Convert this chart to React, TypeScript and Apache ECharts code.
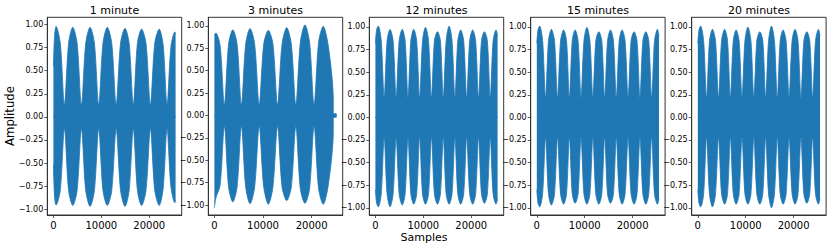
import React, { useEffect, useRef } from "react";
import * as echarts from "echarts";

// ---- data ----
const TITLES = ["1 minute", "3 minutes", "12 minutes", "15 minutes", "20 minutes"];
const Y_TICKS = [-1, -0.75, -0.5, -0.25, 0, 0.25, 0.5, 0.75, 1];
const X_TICKS = [0, 10000, 20000];

// envelope keypoints (sample index, upper / lower envelope)
const P1_X = [0, 250, 560, 1430, 2300, 3170, 4040, 4940, 5845, 6750, 7650, 8550, 9450, 10350, 11250, 12170, 13095, 14020, 14940, 15800, 16670, 17540, 18400, 19320, 20240, 21160, 22080, 22900, 23715, 24530, 25350, 25500];
const P1_TOP = [0.55, 0.88, 0.98, 0.8, 0.13, 0.8, 0.97, 0.8, 0.13, 0.8, 0.97, 0.8, 0.13, 0.8, 0.97, 0.8, 0.13, 0.8, 0.96, 0.8, 0.13, 0.8, 0.95, 0.8, 0.13, 0.8, 0.95, 0.78, 0.13, 0.76, 0.92, 0.9];
const P1_BOT = [-0.52, -0.87, -0.955, -0.8, -0.13, -0.8, -0.96, -0.8, -0.13, -0.8, -0.97, -0.8, -0.13, -0.8, -0.96, -0.8, -0.13, -0.8, -0.97, -0.8, -0.13, -0.8, -0.96, -0.8, -0.13, -0.8, -0.96, -0.78, -0.13, -0.76, -0.93, -0.9];

const P2_X = [0, 300, 1170, 2050, 2920, 3780, 4660, 5550, 6440, 7330, 8270, 9210, 10150, 11090, 12030, 12980, 13920, 14870, 15810, 16745, 17680, 18620, 19560, 20500, 21440, 22380, 23410, 24440, 24470, 25130];
const P2_TOP = [0.9, 0.92, 0.78, 0.12, 0.8, 0.955, 0.8, 0.12, 0.8, 0.97, 0.8, 0.12, 0.8, 0.95, 0.8, 0.12, 0.8, 0.98, 0.8, 0.12, 0.82, 1.01, 0.82, 0.12, 0.82, 0.995, 0.78, 0.22, 0.02, 0.02];
const P2_BOT = [-1.03, -0.92, -0.78, -0.12, -0.8, -0.965, -0.8, -0.12, -0.8, -0.985, -0.8, -0.12, -0.8, -0.99, -0.8, -0.12, -0.8, -0.95, -0.8, -0.12, -0.82, -0.98, -0.82, -0.12, -0.82, -0.99, -0.78, -0.22, -0.02, -0.02];

const P345_X = [0, 250, 600, 1210, 1825, 2440, 3050, 3690, 4325, 4960, 5600, 6200, 6800, 7400, 8000, 8610, 9225, 9840, 10450, 11080, 11700, 12320, 12950, 13560, 14165, 14770, 15380, 15990, 16590, 17200, 17800, 18420, 19050, 19680, 20300, 20910, 21525, 22140, 22750, 23360, 23965, 24570, 25180, 25500];

const P3_TOP = [0.82, 0.97, 1.01,
  0.85, 0.22, 0.85, 0.974, 0.85, 0.22, 0.85, 0.974, 0.85, 0.22, 0.85, 0.974, 0.85, 0.22, 0.85, 0.996, 0.85, 0.22, 0.85, 0.948,
  0.85, 0.22, 0.85, 1.01, 0.85, 0.22, 0.85, 0.967, 0.85, 0.22, 0.85, 0.967, 0.85, 0.22, 0.85, 0.948, 0.85, 0.22, 0.85, 0.967, 0.9];
const P3_BOT = [-0.8, -0.95, -0.99,
  -0.85, -0.22, -0.85, -0.99, -0.85, -0.22, -0.85, -0.97, -0.85, -0.22, -0.85, -0.96, -0.85, -0.22, -0.85, -0.96, -0.85, -0.22, -0.85, -0.96,
  -0.85, -0.22, -0.85, -0.96, -0.85, -0.22, -0.85, -0.96, -0.85, -0.22, -0.85, -0.96, -0.85, -0.22, -0.85, -0.95, -0.85, -0.22, -0.85, -0.96, -0.9];

const P4_TOP = [0.82, 0.97, 1.01,
  0.85, 0.22, 0.85, 0.974, 0.85, 0.22, 0.85, 0.967, 0.85, 0.22, 0.85, 0.967, 0.85, 0.22, 0.85, 0.996, 0.85, 0.22, 0.85, 0.948,
  0.85, 0.22, 0.85, 0.967, 0.85, 0.22, 0.85, 0.967, 0.85, 0.22, 0.85, 0.948, 0.85, 0.22, 0.85, 0.948, 0.85, 0.22, 0.85, 0.974, 0.9];
const P4_BOT = [-0.8, -0.95, -0.99,
  -0.85, -0.22, -0.85, -0.97, -0.85, -0.22, -0.85, -0.96, -0.85, -0.22, -0.85, -0.95, -0.85, -0.22, -0.85, -0.96, -0.85, -0.22, -0.85, -0.96,
  -0.85, -0.22, -0.85, -0.95, -0.85, -0.22, -0.85, -0.96, -0.85, -0.22, -0.85, -0.96, -0.85, -0.22, -0.85, -0.96, -0.85, -0.22, -0.85, -0.96, -0.9];

const P5_TOP = [0.82, 0.97, 1.01,
  0.85, 0.22, 0.85, 0.974, 0.85, 0.22, 0.85, 0.974, 0.85, 0.22, 0.85, 0.967, 0.85, 0.22, 0.85, 1.0, 0.85, 0.22, 0.85, 0.948,
  0.85, 0.22, 0.85, 1.01, 0.85, 0.22, 0.85, 0.967, 0.85, 0.22, 0.85, 0.974, 0.85, 0.22, 0.85, 0.948, 0.85, 0.22, 0.85, 0.974, 0.9];
const P5_BOT = [-0.8, -0.95, -0.99,
  -0.85, -0.22, -0.85, -0.99, -0.85, -0.22, -0.85, -0.96, -0.85, -0.22, -0.85, -0.96, -0.85, -0.22, -0.85, -0.96, -0.85, -0.22, -0.85, -0.96,
  -0.85, -0.22, -0.85, -1.0, -0.85, -0.22, -0.85, -0.96, -0.85, -0.22, -0.85, -0.96, -0.85, -0.22, -0.85, -0.95, -0.85, -0.22, -0.85, -0.96, -0.9];

const PANELS = [
  { x: P1_X, top: P1_TOP, bot: P1_BOT },
  { x: P2_X, top: P2_TOP, bot: P2_BOT },
  { x: P345_X, top: P3_TOP, bot: P3_BOT },
  { x: P345_X, top: P4_TOP, bot: P4_BOT },
  { x: P345_X, top: P5_TOP, bot: P5_BOT },
];

// axis extents (matplotlib auto-margins)
const X_MIN = [-1275, -1256, -1275, -1275, -1275];
const X_MAX = [26775, 26386, 26775, 26775, 26775];
const Y_MIN = [-1.063, -1.11, -1.08, -1.08, -1.08];
const Y_MAX = [1.078, 1.095, 1.107, 1.107, 1.107];

// ---- layout ----
const LEFTS = [47.3, 208.3, 369.3, 530.7, 691.7];
const PW = 134.4;
const PT = 17.3;
const PH = 197.7;
const BLUE = "#1f77b4";
const FONT = "DejaVu Sans";
const AXC = "#333";

const fmtY = (v: number) => (v < 0 ? "\u2212" : "") + Math.abs(v).toFixed(2);

export default function App() {
  const ref = useRef<HTMLDivElement>(null);
  useEffect(() => {
    if (!ref.current) return;
    const chart = echarts.init(ref.current, undefined, { renderer: "svg" });
    const grids: any[] = [];
    const xAxes: any[] = [];
    const yAxes: any[] = [];
    const series: any[] = [];
    const graphics: any[] = [];
    PANELS.forEach((p, i) => {
      grids.push({
        left: LEFTS[i], top: PT, width: PW, height: PH,
        show: true, borderColor: AXC, borderWidth: 1, backgroundColor: "transparent",
        containLabel: false,
      });
      xAxes.push({
        type: "value", gridIndex: i, min: X_MIN[i], max: X_MAX[i],
        axisLine: { show: true, onZero: false, lineStyle: { color: AXC, width: 1 } },
        axisTick: { show: true, customValues: X_TICKS, length: 3, lineStyle: { color: AXC, width: 0.8 } },
        axisLabel: { customValues: X_TICKS, fontSize: 10, fontFamily: FONT, color: "#000", margin: 5, formatter: (v: number) => String(v) },
        splitLine: { show: false },
      });
      yAxes.push({
        type: "value", gridIndex: i, min: Y_MIN[i], max: Y_MAX[i],
        axisLine: { show: true, onZero: false, lineStyle: { color: AXC, width: 1 } },
        axisTick: { show: true, customValues: Y_TICKS, length: 3, lineStyle: { color: AXC, width: 0.8 } },
        axisLabel: { customValues: Y_TICKS, fontSize: 8, fontFamily: FONT, color: "#000", margin: 4, formatter: fmtY },
        splitLine: { show: false },
      });
      const mk = (vals: number[]) => ({
        type: "line", xAxisIndex: i, yAxisIndex: i,
        data: p.x.map((x, j) => [x, vals[j]]),
        showSymbol: false, symbol: "none", smooth: 0.3, silent: true,
        lineStyle: { color: BLUE, width: 0.8 },
        areaStyle: { color: BLUE, opacity: 1, origin: "auto" },
        z: 2,
      });
      series.push(mk(p.top));
      series.push(mk(p.bot));
      // zero-line seam cover where the two filled halves meet
      series.push({
        type: "line", xAxisIndex: i, yAxisIndex: i,
        data: [[p.x[0], 0], [p.x[p.x.length - 1], 0]],
        showSymbol: false, symbol: "none", silent: true,
        lineStyle: { color: BLUE, width: 1.5 }, z: 3,
      });
      graphics.push({
        type: "text", x: LEFTS[i] + PW / 2, y: 10,
        style: { text: TITLES[i], fontSize: 11, fontFamily: FONT, fill: "#000", align: "center", verticalAlign: "middle" },
      });
    });
    graphics.push({
      type: "text", x: 10, y: 116, rotation: Math.PI / 2,
      style: { text: "Amplitude", fontSize: 11.7, fontFamily: FONT, fill: "#000", align: "center", verticalAlign: "middle" },
    });
    graphics.push({
      type: "text", x: 424, y: 237.5,
      style: { text: "Samples", fontSize: 11, fontFamily: FONT, fill: "#000", align: "center", verticalAlign: "middle" },
    });
    chart.setOption({
      animation: false,
      textStyle: { fontFamily: FONT },
      grid: grids,
      xAxis: xAxes,
      yAxis: yAxes,
      series,
      graphic: graphics,
    });
    return () => chart.dispose();
  }, []);
  return (
    <div
      ref={ref}
      style={{ position: "absolute", left: 0, top: 0, width: 830, height: 249, background: "#fff" }}
    />
  );
}
